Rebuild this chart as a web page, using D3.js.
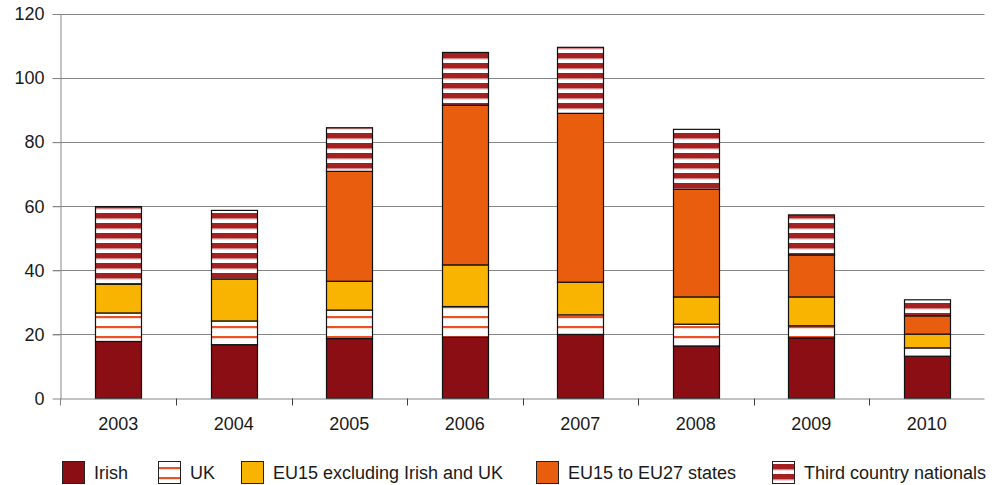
<!DOCTYPE html>
<html>
<head>
<meta charset="utf-8">
<script src="https://cdn.jsdelivr.net/npm/d3@7"></script>
<style>
  html, body { margin: 0; padding: 0; background: #fff; }
  svg { display: block; font-family: "Liberation Sans", Arial, sans-serif; }
</style>
</head>
<body>
<svg id="chart" width="995" height="485"></svg>
<script>
// Categories and stacked series values (thousands)
const years = ["2003", "2004", "2005", "2006", "2007", "2008", "2009", "2010"];
const irish = [17.8, 16.8, 18.7, 19.1, 20.0, 16.4, 18.9, 13.2];
const uk = [8.9, 7.4, 8.9, 9.6, 6.1, 6.8, 3.8, 2.6];
const eu15ex = [9.0, 13.1, 9.0, 13.0, 10.2, 8.5, 9.0, 4.3];
const eu27 = [0, 0, 34.3, 49.8, 52.7, 33.6, 13.1, 5.7];
const thirdCountry = [24.2, 21.4, 13.6, 16.5, 20.6, 18.7, 12.5, 5.0];
const yTicks = [0, 20, 40, 60, 80, 100, 120];

const seriesNames = ["Irish", "UK", "EU15 excluding Irish and UK", "EU15 to EU27 states", "Third country nationals"];
const seriesKeys = ["irish", "uk", "eu15ex", "eu27", "third"];

const table = years.map((y, i) => ({
  year: y, irish: irish[i], uk: uk[i], eu15ex: eu15ex[i], eu27: eu27[i], third: thirdCountry[i]
}));

const svg = d3.select("#chart");
const x0 = 60.5, x1 = 984.5, yBottom = 398.5, yTop = 14;
const fontSize = 18;

const x = d3.scaleBand().domain(years).range([x0, x1]).paddingInner(0.6).paddingOuter(0.3);
const y = d3.scaleLinear().domain([0, 120]).range([yBottom, yTop]);

// Fill patterns
const defs = svg.append("defs");
const ukPat = defs.append("pattern").attr("id", "ukStripe")
  .attr("patternUnits", "userSpaceOnUse").attr("width", 10).attr("height", 10)
  .attr("y", 2);
ukPat.append("rect").attr("width", 10).attr("height", 10).attr("fill", "#fff");
ukPat.append("rect").attr("y", 4).attr("width", 10).attr("height", 2.2).attr("fill", "#ee5026");

const tcPat = defs.append("pattern").attr("id", "tcStripe")
  .attr("patternUnits", "userSpaceOnUse").attr("width", 10).attr("height", 10)
  .attr("y", 3);
tcPat.append("rect").attr("width", 10).attr("height", 10).attr("fill", "#fff");
tcPat.append("rect").attr("y", 0).attr("width", 10).attr("height", 5.6).attr("fill", "#a52020");
tcPat.append("rect").attr("y", 5.6).attr("width", 10).attr("height", 0.8).attr("fill", "#e0a0a0");

const fills = {
  irish: "#8b0e14",
  uk: "url(#ukStripe)",
  eu15ex: "#f8b400",
  eu27: "#e85e0e",
  third: "url(#tcStripe)"
};

// Gridlines and y-axis ticks
const grid = svg.append("g");
grid.selectAll("line").data(yTicks.filter(d => d > 0)).join("line")
  .attr("x1", 53).attr("x2", x1)
  .attr("y1", d => Math.round(y(d)) + 0.5).attr("y2", d => Math.round(y(d)) + 0.5)
  .attr("stroke", "#868686").attr("stroke-width", 1);

const yAxis = d3.axisLeft(y).tickValues(yTicks).tickSize(8).tickPadding(8).tickSizeOuter(0);
const gy = svg.append("g").attr("transform", `translate(${x0},0)`).call(yAxis);
gy.select(".domain").attr("stroke", "#868686");
gy.selectAll(".tick line").attr("stroke", "#868686");
gy.selectAll(".tick text").attr("font-size", fontSize).attr("fill", "#1a1a1a")
  .attr("font-family", "'Liberation Sans', Arial, sans-serif");

// Stacked bars
const stack = d3.stack().keys(seriesKeys);
const layers = stack(table);
const barG = svg.append("g");
layers.forEach(layer => {
  barG.append("g").selectAll("rect")
    .data(layer.filter(d => d[1] - d[0] > 0))
    .join("rect")
    .attr("x", d => Math.round(x(d.data.year)) + 0.5)
    .attr("width", Math.round(x.bandwidth()))
    .attr("y", d => y(d[1]))
    .attr("height", d => y(d[0]) - y(d[1]))
    .attr("fill", fills[layer.key])
    .attr("stroke", "#111")
    .attr("stroke-width", 1.2);
});

// X axis with ticks at category boundaries
const xAxisG = svg.append("g");
xAxisG.append("line").attr("x1", x0).attr("x2", x1)
  .attr("y1", yBottom + 0.5).attr("y2", yBottom + 0.5).attr("stroke", "#868686");
const step = x.step();
const bounds = d3.range(years.length + 1).map(i => x0 + i * step);
xAxisG.selectAll("line.tk").data(bounds.slice(1, -1)).join("line").attr("class", "tk")
  .attr("x1", d => Math.round(d) + 0.5).attr("x2", d => Math.round(d) + 0.5)
  .attr("y1", yBottom).attr("y2", yBottom + 7).attr("stroke", "#404040");
xAxisG.append("line").attr("x1", x0).attr("x2", x0)
  .attr("y1", yBottom).attr("y2", yBottom + 7).attr("stroke", "#868686");
xAxisG.selectAll("text").data(years).join("text")
  .attr("x", d => x(d) + x.bandwidth() / 2)
  .attr("y", 430)
  .attr("text-anchor", "middle")
  .attr("font-size", fontSize).attr("fill", "#1a1a1a")
  .text(d => d);

// Legend
const legendX = [62, 158, 241, 536, 772];
const legend = svg.append("g");
seriesKeys.forEach((k, i) => {
  const g = legend.append("g").attr("transform", `translate(${legendX[i]},461)`);
  g.append("rect").attr("x", 0.5).attr("y", 0.5).attr("width", 22).attr("height", 22)
    .attr("fill", fills[k]).attr("stroke", "#222").attr("stroke-width", 1);
  g.append("text").attr("x", 32).attr("y", 17.5)
    .attr("font-size", fontSize).attr("fill", "#1a1a1a")
    .text(seriesNames[i]);
});
</script>
</body>
</html>
